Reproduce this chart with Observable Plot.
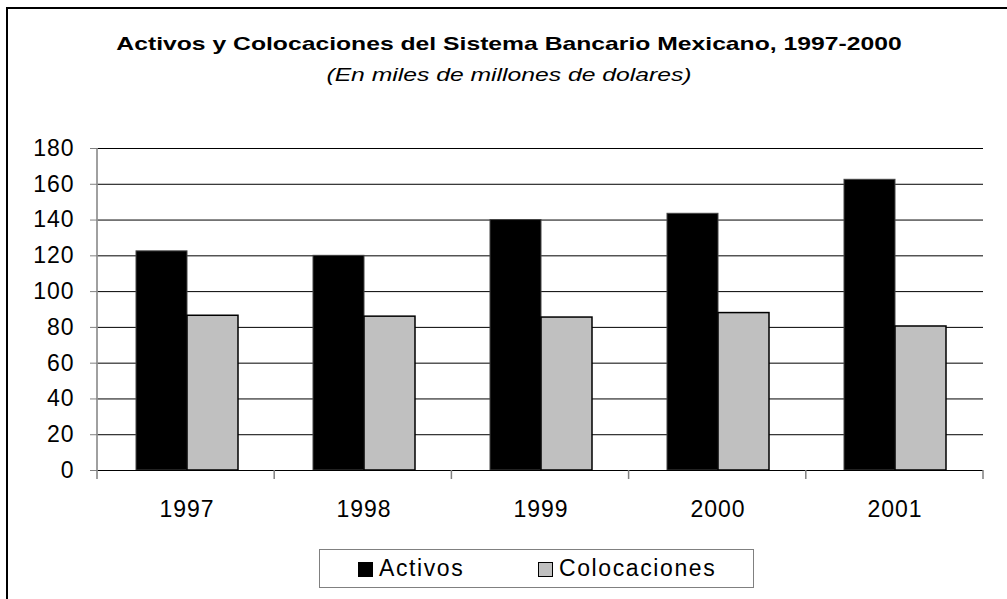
<!DOCTYPE html>
<html>
<head>
<meta charset="utf-8">
<script src="https://cdn.jsdelivr.net/npm/d3@7"></script>
<script src="https://cdn.jsdelivr.net/npm/@observablehq/plot@0.6"></script>
<style>
  html, body { margin: 0; padding: 0; background: #fff; }
  #chart {
    position: relative; width: 1007px; height: 599px; overflow: hidden;
    font-family: "Liberation Sans", Arial, sans-serif; color: #000;
  }
  #frame {
    position: absolute; left: 6px; top: 7px; width: 1200px; height: 800px;
    border: 2px solid #000; box-sizing: border-box;
  }
  .head {
    position: absolute; left: 0; width: 1018px; text-align: center;
    font-size: 19px; line-height: 19px; white-space: nowrap;
    transform: scaleX(1.3); transform-origin: 509px 0;
  }
  #title { top: 34px; font-weight: bold; }
  #subtitle { top: 65px; font-style: italic; }
  #plot { position: absolute; left: 0; top: 110px; }
  #plot svg text { letter-spacing: 1px; }
  #legend {
    position: absolute; left: 319px; top: 549px; width: 435px; height: 39px;
    border: 1px solid #808080; box-sizing: border-box;
    font-size: 23px; line-height: 23px; letter-spacing: 1.6px;
  }
  .item { position: absolute; top: 7px; white-space: nowrap; }
  .sw {
    display: inline-block; width: 15px; height: 15px; box-sizing: border-box;
    border: 1px solid #000; margin-right: 6px; vertical-align: -1px;
  }
</style>
</head>
<body>
<div id="chart">
  <div id="frame"></div>
  <div id="title" class="head"></div>
  <div id="subtitle" class="head"></div>
  <div id="plot"></div>
  <div id="legend"></div>
</div>
<script>
// Activos y colocaciones del sistema bancario mexicano (miles de millones de dólares)
const years = ["1997", "1998", "1999", "2000", "2001"];
const series = ["Activos", "Colocaciones"];
const activos = [122.5, 120, 140, 143.5, 162.5];
const colocaciones = [86.5, 86, 85.5, 88, 80.5];
const yTicks = [0, 20, 40, 60, 80, 100, 120, 140, 160, 180];
const seriesFill = ["#000000", "#c0c0c0"];
const seriesStroke = ["#444444", "#000000"];

const titleText = "Activos y Colocaciones del Sistema Bancario Mexicano, 1997-2000";
const subtitleText = "(En miles de millones de dolares)";

document.getElementById("title").textContent = titleText;
document.getElementById("subtitle").textContent = subtitleText;

const rows = years.flatMap((year, i) => [
  {year, serie: series[0], value: activos[i]},
  {year, serie: series[1], value: colocaciones[i]}
]);

const plot = Plot.plot({
  width: 1007,
  height: 430,
  marginTop: 38,
  marginBottom: 70,
  marginLeft: 97,
  marginRight: 24,
  style: {
    fontFamily: "'Liberation Sans', Arial, sans-serif",
    fontSize: "23px",
    color: "#000",
    background: "transparent",
    overflow: "visible"
  },
  fx: {domain: years, padding: 0, label: null},
  x: {domain: series, paddingInner: 0, paddingOuter: 0.72, axis: null},
  y: {domain: [0, 180], label: null},
  marks: [
    Plot.gridY(yTicks, {stroke: "#000", strokeOpacity: 1}),
    Plot.axisY(yTicks, {tickSize: 8, tickPadding: 16, label: null, stroke: "#808080", fill: "#000", fontSize: 23}),
    Plot.axisFx({anchor: "bottom", tickSize: 0, tickPadding: 30, label: null, fill: "#000", fontSize: 23}),
    ...series.map((s, k) => Plot.barY(rows.filter(d => d.serie === s), {
      fx: "year", x: "serie", y: "value",
      fill: seriesFill[k], stroke: seriesStroke[k], strokeWidth: k ? 1.5 : 1
    })),
    Plot.ruleY([0], {stroke: "#000"})
  ]
});
document.getElementById("plot").appendChild(plot);

// Y axis line and the category separator ticks, placed from Plot's own scales
const svg = d3.select(plot.tagName.toLowerCase() === "svg" ? plot : plot.querySelector("svg"));
const fxs = plot.scale("fx");
const ys = plot.scale("y");
const band = d3.scaleBand().domain(fxs.domain).range(fxs.range).paddingInner(0).paddingOuter(0);
const yLin = d3.scaleLinear(ys.domain, ys.range);
const y0 = yLin(0);
const yTop = yLin(d3.max(yTicks));
const edges = [...years.map(d => band(d)), band(years[years.length - 1]) + band.bandwidth()];
const g = svg.append("g").attr("stroke", "#808080").attr("stroke-width", 1.5);
g.append("line")
  .attr("x1", edges[0]).attr("x2", edges[0])
  .attr("y1", yTop).attr("y2", y0);
g.selectAll(".sep").data(edges).join("line")
  .attr("x1", d => d).attr("x2", d => d)
  .attr("y1", y0).attr("y2", y0 + 9);

// Legend
const legend = d3.select("#legend");
const legendLeft = [38, 218];
series.forEach((s, k) => {
  const item = legend.append("div").attr("class", "item").style("left", legendLeft[k] + "px");
  item.append("span").attr("class", "sw").style("background", seriesFill[k]);
  item.append("span").text(s);
});
</script>
</body>
</html>
